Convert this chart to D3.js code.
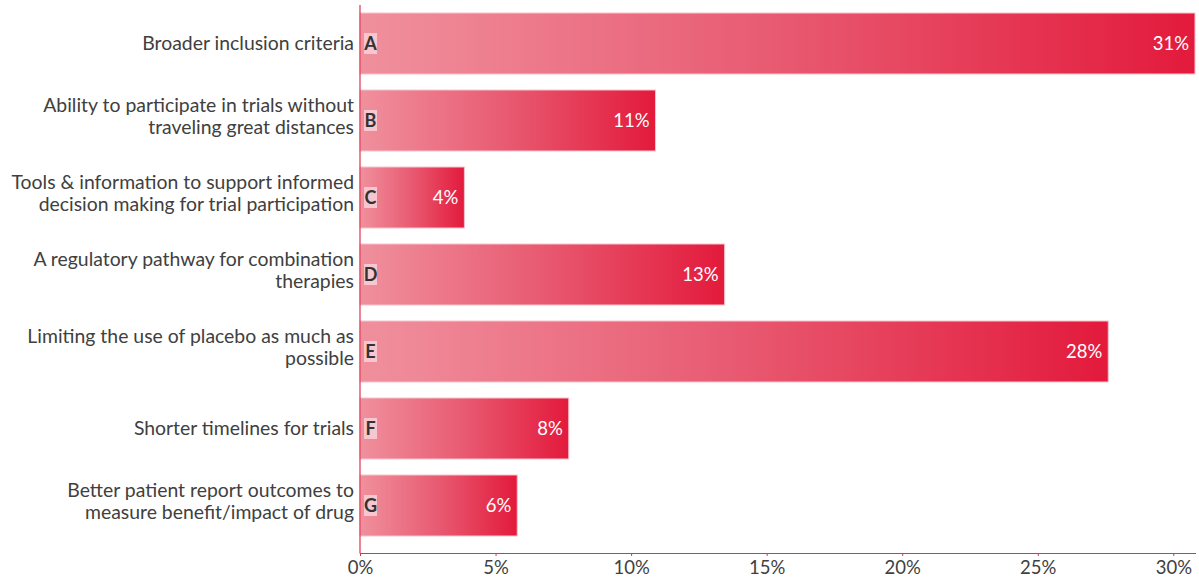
<!DOCTYPE html>
<html>
<head>
<meta charset="utf-8">
<script src="https://cdn.jsdelivr.net/npm/d3@7"></script>
<style>
  html, body { margin: 0; padding: 0; background: #fff; }
  svg { display: block; font-family: Lato, "Open Sans", sans-serif; }
</style>
</head>
<body>
<svg id="chart" width="1199" height="582"></svg>
<script>
// Survey answers, one bar per option
const letters = ["A", "B", "C", "D", "E", "F", "G"];
const categories = [
  ["Broader inclusion criteria"],
  ["Ability to participate in trials without", "traveling great distances"],
  ["Tools & information to support informed", "decision making for trial participation"],
  ["A regulatory pathway for combination", "therapies"],
  ["Limiting the use of placebo as much as", "possible"],
  ["Shorter timelines for trials"],
  ["Better patient report outcomes to", "measure benefit/impact of drug"]
];
const values = [30.8, 10.9, 3.85, 13.45, 27.6, 7.7, 5.8];
const tickValues = [0, 5, 10, 15, 20, 25, 30];

const svg = d3.select("#chart");
const W = 1199, H = 582;
const left = 360, axisY = 553;
const labelSize = 19.4, lineGap = 22;

const x = d3.scaleLinear().domain([0, 30.8]).range([left, W - 4]);
const y = d3.scaleBand().domain(letters).range([5, 544])
  .paddingInner(0.208).paddingOuter(0.104);

const defs = svg.append("defs");
const grad = defs.append("linearGradient").attr("id", "barGrad")
  .attr("x1", "0%").attr("x2", "100%").attr("y1", "0%").attr("y2", "0%");
grad.append("stop").attr("offset", "0%").attr("stop-color", "#f0909d");
grad.append("stop").attr("offset", "50%").attr("stop-color", "#e85a71");
grad.append("stop").attr("offset", "100%").attr("stop-color", "#e31a3c");

const rows = letters.map((l, i) => ({ letter: l, label: categories[i], value: values[i] }));

// Bars
svg.append("g").selectAll("rect").data(rows).join("rect")
  .attr("x", x(0))
  .attr("y", d => y(d.letter))
  .attr("width", d => x(d.value) - x(0))
  .attr("height", y.bandwidth())
  .attr("fill", "url(#barGrad)")
  .attr("stroke", "#f6c3cc")
  .attr("stroke-width", 1);

// Value labels inside bar ends
svg.append("g").selectAll("text").data(rows).join("text")
  .attr("x", d => x(d.value) - 6)
  .attr("y", d => y(d.letter) + y.bandwidth() / 2)
  .attr("dy", "0.36em")
  .attr("text-anchor", "end")
  .attr("fill", "#fff")
  .attr("font-size", 18.5)
  .text(d => Math.round(d.value) + "%");

// Letter badges
const badge = svg.append("g").selectAll("g").data(rows).join("g")
  .attr("transform", d => `translate(${x(0) + 4},${y(d.letter) + y.bandwidth() / 2})`);
badge.append("rect").attr("x", 0).attr("y", -10.5).attr("width", 13).attr("height", 21)
  .attr("fill", "#f7c6cf");
badge.append("text").attr("x", 6.5).attr("dy", "0.36em").attr("text-anchor", "middle")
  .attr("font-weight", "bold").attr("font-size", 18).attr("fill", "#333")
  .text(d => d.letter);

// Category labels, wrapped onto one or two lines
const lab = svg.append("g").selectAll("text").data(rows).join("text")
  .attr("x", left - 6)
  .attr("y", d => y(d.letter) + y.bandwidth() / 2)
  .attr("text-anchor", "end")
  .attr("fill", "#404040")
  .attr("font-size", labelSize);
lab.each(function (d) {
  const n = d.label.length;
  const first = 0.35 * labelSize - (n > 1 ? 15 : 0);
  d3.select(this).selectAll("tspan").data(d.label).join("tspan")
    .attr("x", left - 6)
    .attr("dy", (t, i) => i === 0 ? first : lineGap)
    .text(t => t);
});

// Axes
const axisColor = "#e2304d";
svg.append("line").attr("x1", x(0)).attr("x2", x(0)).attr("y1", 5).attr("y2", axisY + 0.5)
  .attr("stroke", axisColor).attr("stroke-width", 1.2);

const xAxis = svg.append("g").attr("transform", `translate(0,${axisY})`)
  .call(d3.axisBottom(x).tickValues(tickValues).tickFormat(d => d + "%").tickSize(3).tickSizeOuter(0));
xAxis.select(".domain").attr("stroke", axisColor).attr("stroke-width", 1.2)
  .attr("d", `M${x(0)},0.5H${W - 3}`);
xAxis.selectAll(".tick line").attr("stroke", axisColor);
xAxis.selectAll(".tick text").attr("fill", "#404040").attr("font-size", 18.5)
  .attr("font-family", "Lato, sans-serif").attr("dy", "0.8em");
</script>
</body>
</html>
